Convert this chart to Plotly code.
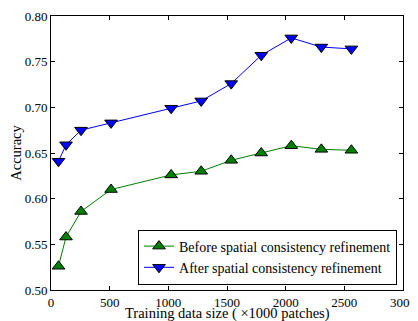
import plotly.graph_objects as go

sizes = [64, 128, 256, 512, 1024, 1280, 1536, 1792, 2048, 2304, 2560]
before = [0.526, 0.558, 0.586, 0.610, 0.626, 0.630, 0.642, 0.650, 0.658, 0.654, 0.653]
after = [0.641, 0.659, 0.675, 0.683, 0.699, 0.707, 0.726, 0.757, 0.776, 0.766, 0.764]
before_name = "Before spatial consistency refinement"
after_name = "After spatial consistency refinement"
x_title = "Training data size ( ×1000 patches)"
y_title = "Accuracy"
xticks = [0, 500, 1000, 1500, 2000, 2500, 3000]
yticks = [0.50, 0.55, 0.60, 0.65, 0.70, 0.75, 0.80]

font = "Liberation Serif, Times New Roman, serif"

fig = go.Figure()
fig.add_trace(go.Scatter(
    x=sizes, y=before, mode="lines+markers", name=before_name,
    line=dict(color="#008000", width=1),
    marker=dict(symbol="triangle-up", size=11, color="#008000",
                line=dict(color="black", width=1)),
))
fig.add_trace(go.Scatter(
    x=sizes, y=after, mode="lines+markers", name=after_name,
    line=dict(color="#0000ff", width=1),
    marker=dict(symbol="triangle-down", size=11, color="#0000ff",
                line=dict(color="black", width=1)),
))

axis_common = dict(
    showgrid=False, zeroline=False, showline=True, linecolor="black",
    linewidth=1, mirror="ticks", ticks="inside", ticklen=4, tickcolor="black",
    tickfont=dict(family=font, size=13, color="black"), automargin=False,
)
fig.update_xaxes(range=[0, 3000], tickvals=xticks, **axis_common)
fig.update_yaxes(range=[0.50, 0.80], tickvals=yticks, tickformat=".2f",
                 title=dict(text=y_title,
                            font=dict(family=font, size=14.5, color="black")),
                 **axis_common)

fig.add_annotation(
    text=x_title, xref="paper", yref="paper", x=0.5, y=0,
    xanchor="center", yanchor="middle", yshift=-23, showarrow=False,
    font=dict(family=font, size=14.5, color="black"),
)

fig.update_layout(
    width=410, height=313,
    margin=dict(l=43, r=15, t=8, b=31),
    paper_bgcolor="white", plot_bgcolor="white",
    font=dict(family=font, size=13, color="black"),
    legend=dict(x=0.983, y=0.02, xanchor="right", yanchor="bottom",
                bgcolor="white", bordercolor="black", borderwidth=1,
                font=dict(family=font, size=14, color="black"),
                tracegroupgap=0, itemwidth=30),
)

fig.write_html("out.html")
